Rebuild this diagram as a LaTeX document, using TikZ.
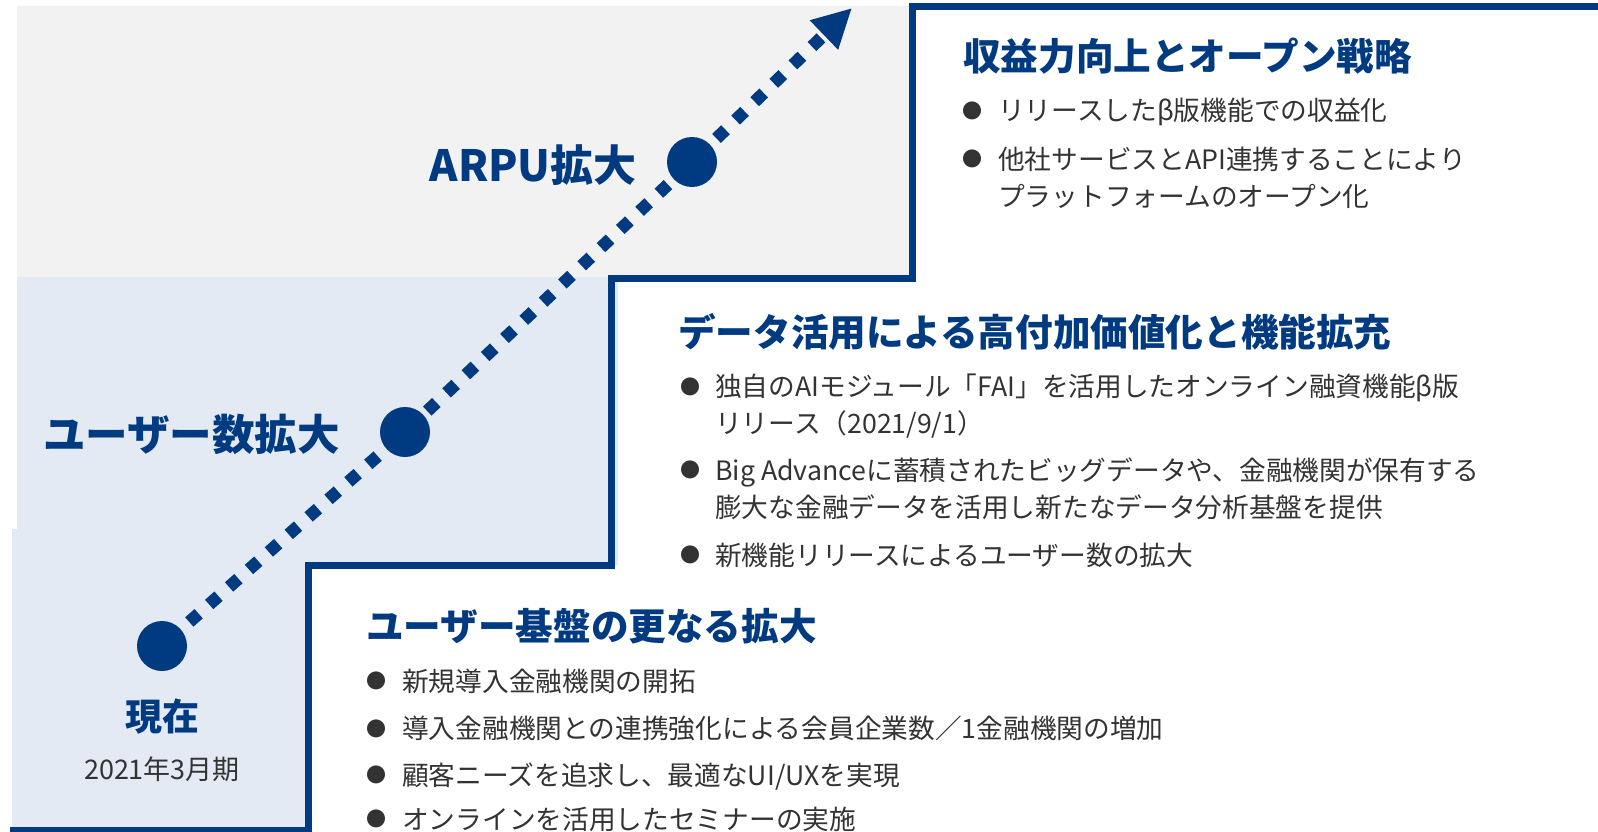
\documentclass[tikz,border=0pt]{standalone}
\usepackage{fontspec}
\setmainfont{Noto Sans CJK JP}
\usetikzlibrary{arrows.meta}
\definecolor{navy}{RGB}{0,58,128}
\definecolor{greybg}{RGB}{242,242,242}
\definecolor{bluebg}{RGB}{228,234,243}
\definecolor{txt}{RGB}{51,51,51}
\pgfdeclarelayer{bg}\pgfdeclarelayer{mid}\pgfsetlayers{bg,mid,main}
\tikzset{
 heading/.style={anchor=base west, inner sep=0pt, text=navy, font=\fontsize{37.6}{40}\selectfont\bfseries},
 itemtext/.style={anchor=base west, inner sep=0pt, text=txt, align=left, font=\fontsize{26.7}{37}\selectfont},
 bulletmark/.style={anchor=center, inner sep=0pt, text=txt, font=\fontsize{20}{20}\selectfont},
 milestone/.style={circle, fill=navy, minimum size=50pt, inner sep=0pt},
 bigtag/.style={inner sep=0pt, text=navy, font=\fontsize{42.5}{45}\selectfont\bfseries},
 stepline/.style={draw=navy, line width=7pt, line join=miter},
 dotline/.style={draw=navy, line width=12.5pt, dash pattern=on 12.5pt off 14pt, dash phase=16.65pt, -{Triangle[length=39pt,width=38pt]}}
}
\begin{document}
\begin{tikzpicture}[x=1pt,y=-1pt]
\useasboundingbox (0,0) rectangle (1598,832);
\begin{pgfonlayer}{bg}
\fill[white] (0,0) rectangle (1598,832);
\fill[greybg] (17,6) rectangle (912,277);
\fill[bluebg] (17,277) -- (618,277) -- (618,565) -- (308,565) -- (308,832) -- (12,832) -- (12,529) -- (17,529) -- cycle;
\end{pgfonlayer}
% step line
\draw[stepline] (1598,7) -- (912,7) -- (912,278) -- (611,278) -- (611,565) -- (308.5,565) -- (308.5,836);
\draw[stepline] (10,830) -- (308.5,830);
% milestones
\coordinate (p1) at (162,646);
\coordinate (p2) at (405,432);
\coordinate (p3) at (692,162);
\coordinate (tip) at (852,8);
\begin{pgfonlayer}{mid}
\draw[dotline] (p1) -- (p2) -- (p3) -- (tip);
\end{pgfonlayer}
\node[milestone] (c1) at (p1) {};
\node[milestone] (c2) at (p2) {};
\node[milestone] (c3) at (p3) {};
% left labels
\node[bigtag, anchor=base east, font=\fontsize{43}{45}\selectfont\bfseries] (arpu) at (637,182) {ARPU拡大};
\node[bigtag, anchor=base east] (users) at (340,450) {ユーザー数拡大};
\node[anchor=base, inner sep=0pt, text=navy, font=\fontsize{37}{40}\selectfont\bfseries] (now) at (162,730) {現在};
\node[anchor=base, inner sep=0pt, text=txt, font=\fontsize{27}{30}\selectfont] (period) at (162,779) {2021年3月期};
% block 1
\node[heading] (h1) at (963,71) {収益力向上とオープン戦略};
\node[bulletmark] (b11) at (972,111) {●};
\node[itemtext] (t11) at (998,121) {リリースしたβ版機能での収益化};
\node[bulletmark] (b12) at (972,159) {●};
\node[itemtext] (t12) at (998,206) {他社サービスとAPI連携することにより\\プラットフォームのオープン化};
% block 2
\node[heading] (h2) at (678,346) {データ活用による高付加価値化と機能拡充};
\node[bulletmark] (b21) at (690,387) {●};
\node[itemtext] (t21) at (715,433) {独自のAIモジュール「FAI」を活用したオンライン融資機能β版\\リリース（2021/9/1）};
\node[bulletmark] (b22) at (690,470) {●};
\node[itemtext] (t22) at (715,517) {Big Advanceに蓄積されたビッグデータや、金融機関が保有する\\膨大な金融データを活用し新たなデータ分析基盤を提供};
\node[bulletmark] (b23) at (690,555) {●};
\node[itemtext] (t23) at (715,565) {新機能リリースによるユーザー数の拡大};
% block 3
\node[heading] (h3) at (366,640) {ユーザー基盤の更なる拡大};
\node[bulletmark] (b31) at (376,681) {●};
\node[itemtext] (t31) at (402,691) {新規導入金融機関の開拓};
\node[bulletmark] (b32) at (376,728.5) {●};
\node[itemtext] (t32) at (402,738.5) {導入金融機関との連携強化による会員企業数／1金融機関の増加};
\node[bulletmark] (b33) at (376,775) {●};
\node[itemtext] (t33) at (402,785) {顧客ニーズを追求し、最適なUI/UXを実現};
\node[bulletmark] (b34) at (376,819) {●};
\node[itemtext] (t34) at (402,829) {オンラインを活用したセミナーの実施};
\end{tikzpicture}
\end{document}
